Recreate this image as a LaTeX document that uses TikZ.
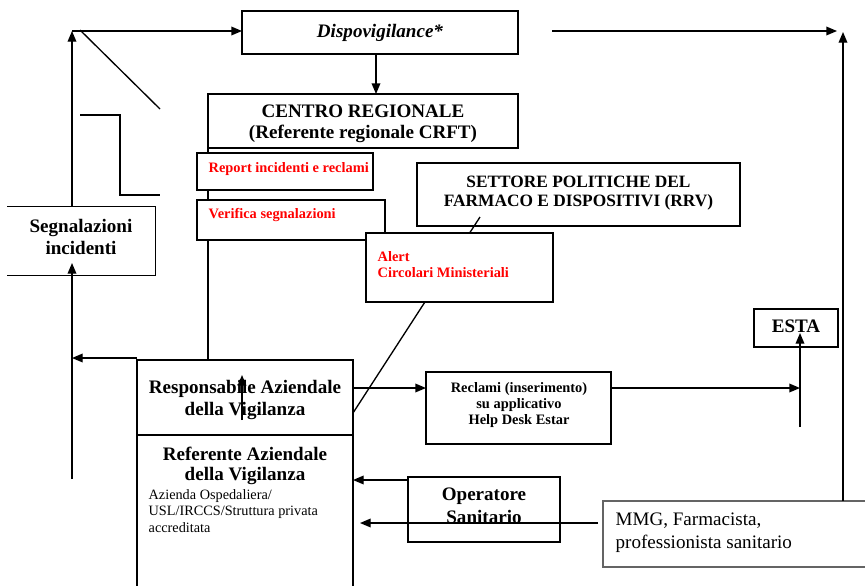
\documentclass[tikz,border=0pt]{standalone}
\usepackage{fontspec}
\setmainfont{Liberation Serif}
\usetikzlibrary{arrows.meta,fit}
\definecolor{boxgray}{RGB}{100,100,100}
\begin{document}
\begin{tikzpicture}[x=0.75pt,y=-0.75pt,
  line width=1pt,
  box/.style={draw, fill=white, inner sep=0pt, outer sep=0pt},
  bigtxt/.style={font=\fontsize{14.3}{15.8}\selectfont\bfseries, align=center, inner sep=0pt},
  midtxt/.style={font=\fontsize{13}{14.3}\selectfont\bfseries, align=center, inner sep=0pt},
  smalltxt/.style={font=\fontsize{10.8}{12}\selectfont\bfseries, align=center, inner sep=0pt},
  alarmtxt/.style={font=\fontsize{10.8}{12}\selectfont\bfseries, text=red, align=left, inner sep=0pt, anchor=west},
  plaintxt/.style={font=\fontsize{10.7}{12.6}\selectfont, align=left, inner sep=0pt, anchor=west},
  arr/.style={-{Triangle[length=8pt,width=6.5pt]}},
]
\useasboundingbox (0,0) rectangle (865,586);
\clip (0,0) rectangle (865,586);

% main boxes
\node[box, fit={(242,11) (518,54)}] (dispo) {};
\node[box, fit={(208,94) (518,148)}] (centro) {};
\node[box, fit={(417,163) (740,226)}] (settore) {};
\node[box, fit={(137,360) (353,435)}] (resp) {};
\node[box, fit={(137,435) (353,600)}] (refer) {};
\node[fill=white, inner sep=0pt, fit={(8,207) (155,275)}] (segn) {};
\draw (segn.north west) -- (segn.north east) -- (segn.south east) -- (segn.south west);
\node[box, fit={(426,372) (611,444)}] (reclami) {};
\node[box, fit={(754,309) (838,347)}] (esta) {};
\node[box, fit={(408,477) (560,542)}] (oper) {};
\node[box, draw=boxgray, fit={(603,501) (880,567)}] (mmg) {};

% lines running behind the smaller boxes
\draw (centro.south west) -- (centro.south west |- resp.north);
\coordinate (dgA) at (480,217);
\coordinate (dgB) at (353,413);
\draw (dgA) -- (dgB);

% boxes laid over those lines
\node[box, fit={(197,153) (373,190)}] (report) {};
\node[box, fit={(197,200) (385,240)}] (verifica) {};
\node[box, fit={(366,233) (553,302)}] (alert) {};

% texts
\node[bigtxt, font=\fontsize{14.3}{15.8}\selectfont\bfseries\itshape] (dispoT) at (380,33) {Dispovigilance*};
\node[bigtxt] (centroT) at (363,124) {CENTRO REGIONALE\\(Referente regionale CRFT)};
\node[alarmtxt] (reportT) at (208,169.5) {Report incidenti e reclami};
\node[alarmtxt] (verificaT) at (208,215.5) {Verifica segnalazioni};
\node[alarmtxt] (alertT) at (377,265) {Alert\\Circolari Ministeriali};
\node[midtxt] (settoreT) at (578.5,193) {SETTORE POLITICHE DEL\\FARMACO E DISPOSITIVI (RRV)};
\node[bigtxt, font=\fontsize{14.3}{17.2}\selectfont\bfseries] (segnT) at (81,237) {Segnalazioni\\incidenti};
\node[bigtxt] (respT) at (245,400) {Responsabile Aziendale\\della Vigilanza};
\node[bigtxt, font=\fontsize{14.3}{15}\selectfont\bfseries] (referT) at (245,466) {Referente Aziendale\\della Vigilanza};
\node[plaintxt] (referS) at (148,511) {Azienda Ospedaliera/\\USL/IRCCS/Struttura privata\\accreditata};
\node[smalltxt] (reclamiT) at (519,405) {Reclami (inserimento)\\su applicativo\\Help Desk Estar};
\node[bigtxt] (estaT) at (796,326) {ESTA};
\node[bigtxt, font=\fontsize{14.3}{17.2}\selectfont\bfseries] (operT) at (484,506) {Operatore\\Sanitario};
\node[plaintxt, font=\fontsize{14.3}{17.2}\selectfont] (mmgT) at (615,533) {MMG, Farmacista,\\professionista sanitario};

% free strokes on the left
\draw (80,30) -- (160,109);
\draw (80,115) -| (120,195) -- (160,195);

% connectors
\draw[arr] ([xshift=-3pt]dispo.south) -- ([xshift=-3pt]dispo.south |- centro.north);
\coordinate (tl) at (72,31);
\draw[arr] (segn.north -| tl) -- (tl);
\draw[arr] (tl) -- (tl -| dispo.west);
\coordinate (bl) at (72,479);
\coordinate (segnTip) at (72,263);
\draw[arr] (bl) -- (segnTip);
\draw[arr] ([yshift=1.5pt]resp.north west) -- ([yshift=1.5pt]resp.north west -| tl);
\coordinate (respLow) at (242,420);
\coordinate (respHigh) at (242,375);
\draw[arr] (respLow) -- (respHigh);

\coordinate (rowA) at (0,388);
\coordinate (estaX) at (800,427);
\draw[arr] (resp.east |- rowA) -- (reclami.west |- rowA);
\draw[arr] (reclami.east |- rowA) -- (estaX |- rowA);
\draw[arr] (estaX) -- ([yshift=10.5pt]estaX |- esta.south);

\coordinate (rowB) at (0,480);
\draw[arr] (oper.west |- rowB) -- (refer.east |- rowB);
\coordinate (rowC) at (0,523);
\draw[arr] ([xshift=-3.75pt]mmg.west |- rowC) -- ([xshift=5.25pt]refer.east |- rowC);

\coordinate (rx) at (843,0);
\coordinate (topY) at (0,32);
\draw[arr] (mmg.north -| rx) -- (rx |- topY);
\coordinate (tr) at (552,31);
\draw[arr] (tr) -- ([xshift=-4.5pt]rx |- tr);
\end{tikzpicture}
\end{document}
